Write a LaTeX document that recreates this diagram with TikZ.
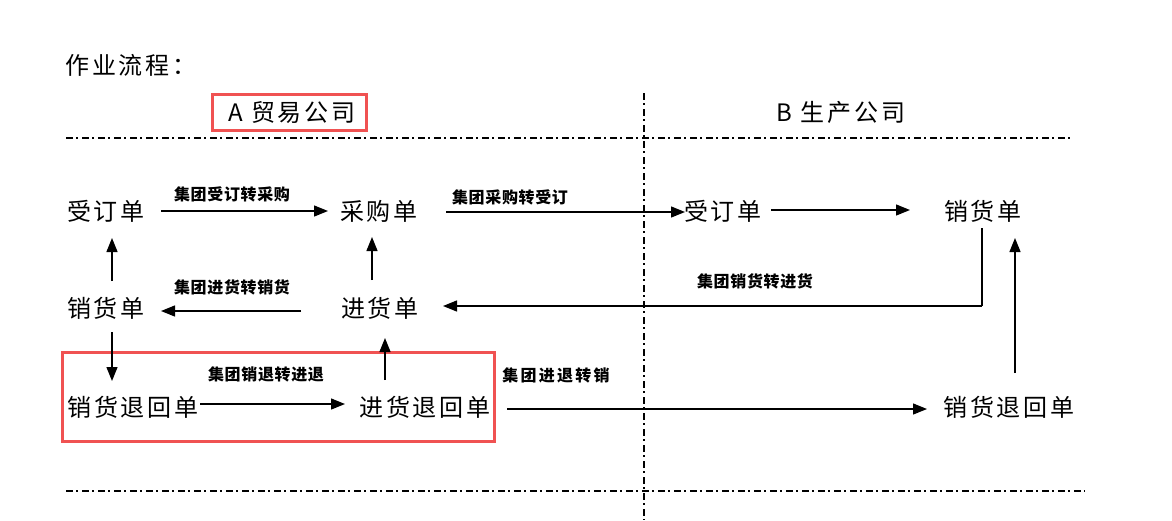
\documentclass[tikz,border=0pt]{standalone}
\usepackage{fontspec}
\setmainfont{Liberation Serif}
\newfontfamily\cjk[LetterSpace=12]{Noto Sans CJK SC}
\newfontfamily\cjkb[LetterSpace=4]{Noto Sans CJK SC}
\newfontfamily\cjkw[LetterSpace=14]{Noto Sans CJK SC}
\usetikzlibrary{arrows.meta,calc}
\definecolor{boxred}{RGB}{240,82,82}
\tikzset{
  doc/.style={inner sep=0pt, font=\cjk\fontsize{24}{26}\selectfont},
  lbl/.style={inner sep=0pt, font=\cjkb\bfseries\fontsize{16}{18}\selectfont},
  flow/.style={line width=1.3pt, -{Triangle[length=14pt,width=11pt]}},
  plain/.style={line width=1.3pt},
  dashdot/.style={line width=1.2pt, dash pattern=on 7pt off 3pt on 2pt off 4pt},
  redbox/.style={draw=boxred, line width=3pt},
}
\begin{document}
\begin{tikzpicture}[x=1pt,y=-1pt]
\useasboundingbox[fill=white] (0,0) rectangle (1172,520);
% title and headers
\node[doc, anchor=west] (title) at (65,65) {作业流程：};
\node[doc] (ha) at (292,112) {A {\cjk 贸易公司}};
\node[doc] (hb) at (841,112) {B {\cjk 生产公司}};
\draw[redbox] (212,94) rectangle (366,130);
% separators
\draw[dashdot] (66,138) -- (1072,138);
\draw[dashdot] (66,491) -- (1085,491);
\draw[dashdot] (644,93) -- (644,520);
% documents
\node[doc] (aso) at (106,211) {受订单};
\node[doc] (apo) at (379,211) {采购单};
\node[doc] (bso) at (723,211) {受订单};
\node[doc] (bsl) at (983,211) {销货单};
\node[doc] (asl) at (106,308) {销货单};
\node[doc] (apr) at (380,308) {进货单};
\node[doc] (asr) at (133,407) {销货退回单};
\node[doc] (apt) at (425,407) {进货退回单};
\node[doc] (bsr) at (1009,407) {销货退回单};
\draw[redbox] (62,352) rectangle (494,441);
% labels
\node[lbl] (l1) at (232,194) {集团受订转采购};
\node[lbl] (l2) at (510,197) {集团采购转受订};
\node[lbl] (l3) at (755,281) {集团销货转进货};
\node[lbl] (l4) at (232,287) {集团进货转销货};
\node[lbl] (l5) at (266,374) {集团销退转进退};
\node[lbl, font=\cjkw\bfseries\fontsize{16}{18}\selectfont] (l6) at (556,375) {集团进退转销};
% connectors
\draw[flow] ($(aso)+(55,0)$) -- ($(apo)+(-51,0)$);
\draw[flow] ($(apo)+(67,1)$) -- ($(bso)+(-38,1)$);
\draw[flow] ($(bso)+(48,-1)$) -- ($(bsl)+(-73,-1)$);
\coordinate (turn) at (982,306);
\draw[plain] ($(bsl)+(-1,17)$) -- (turn);
\draw[flow] (turn) -- ($(apr)+(63,-2)$);
\draw[flow] ($(apr)+(-8,-28)$) -- ($(apo)+(-7,26)$);
\draw[flow] ($(apt)+(-40,-27)$) -- ($(apr)+(5,30)$);
\draw[flow] ($(asl)+(6,-27)$) -- ($(aso)+(6,27)$);
\draw[flow] ($(asl)+(6,24)$) -- ($(asr)+(-21,-26)$);
\draw[flow] ($(apr)+(-79,3)$) -- ($(asl)+(55,3)$);
\draw[flow] ($(asr)+(67,-3)$) -- ($(apt)+(-80,-3)$);
\draw[flow] ($(apt)+(82,2)$) -- ($(bsr)+(-82,2)$);
\draw[flow] ($(bsr)+(6,-34)$) -- ($(bsl)+(32,27)$);
\end{tikzpicture}
\end{document}
